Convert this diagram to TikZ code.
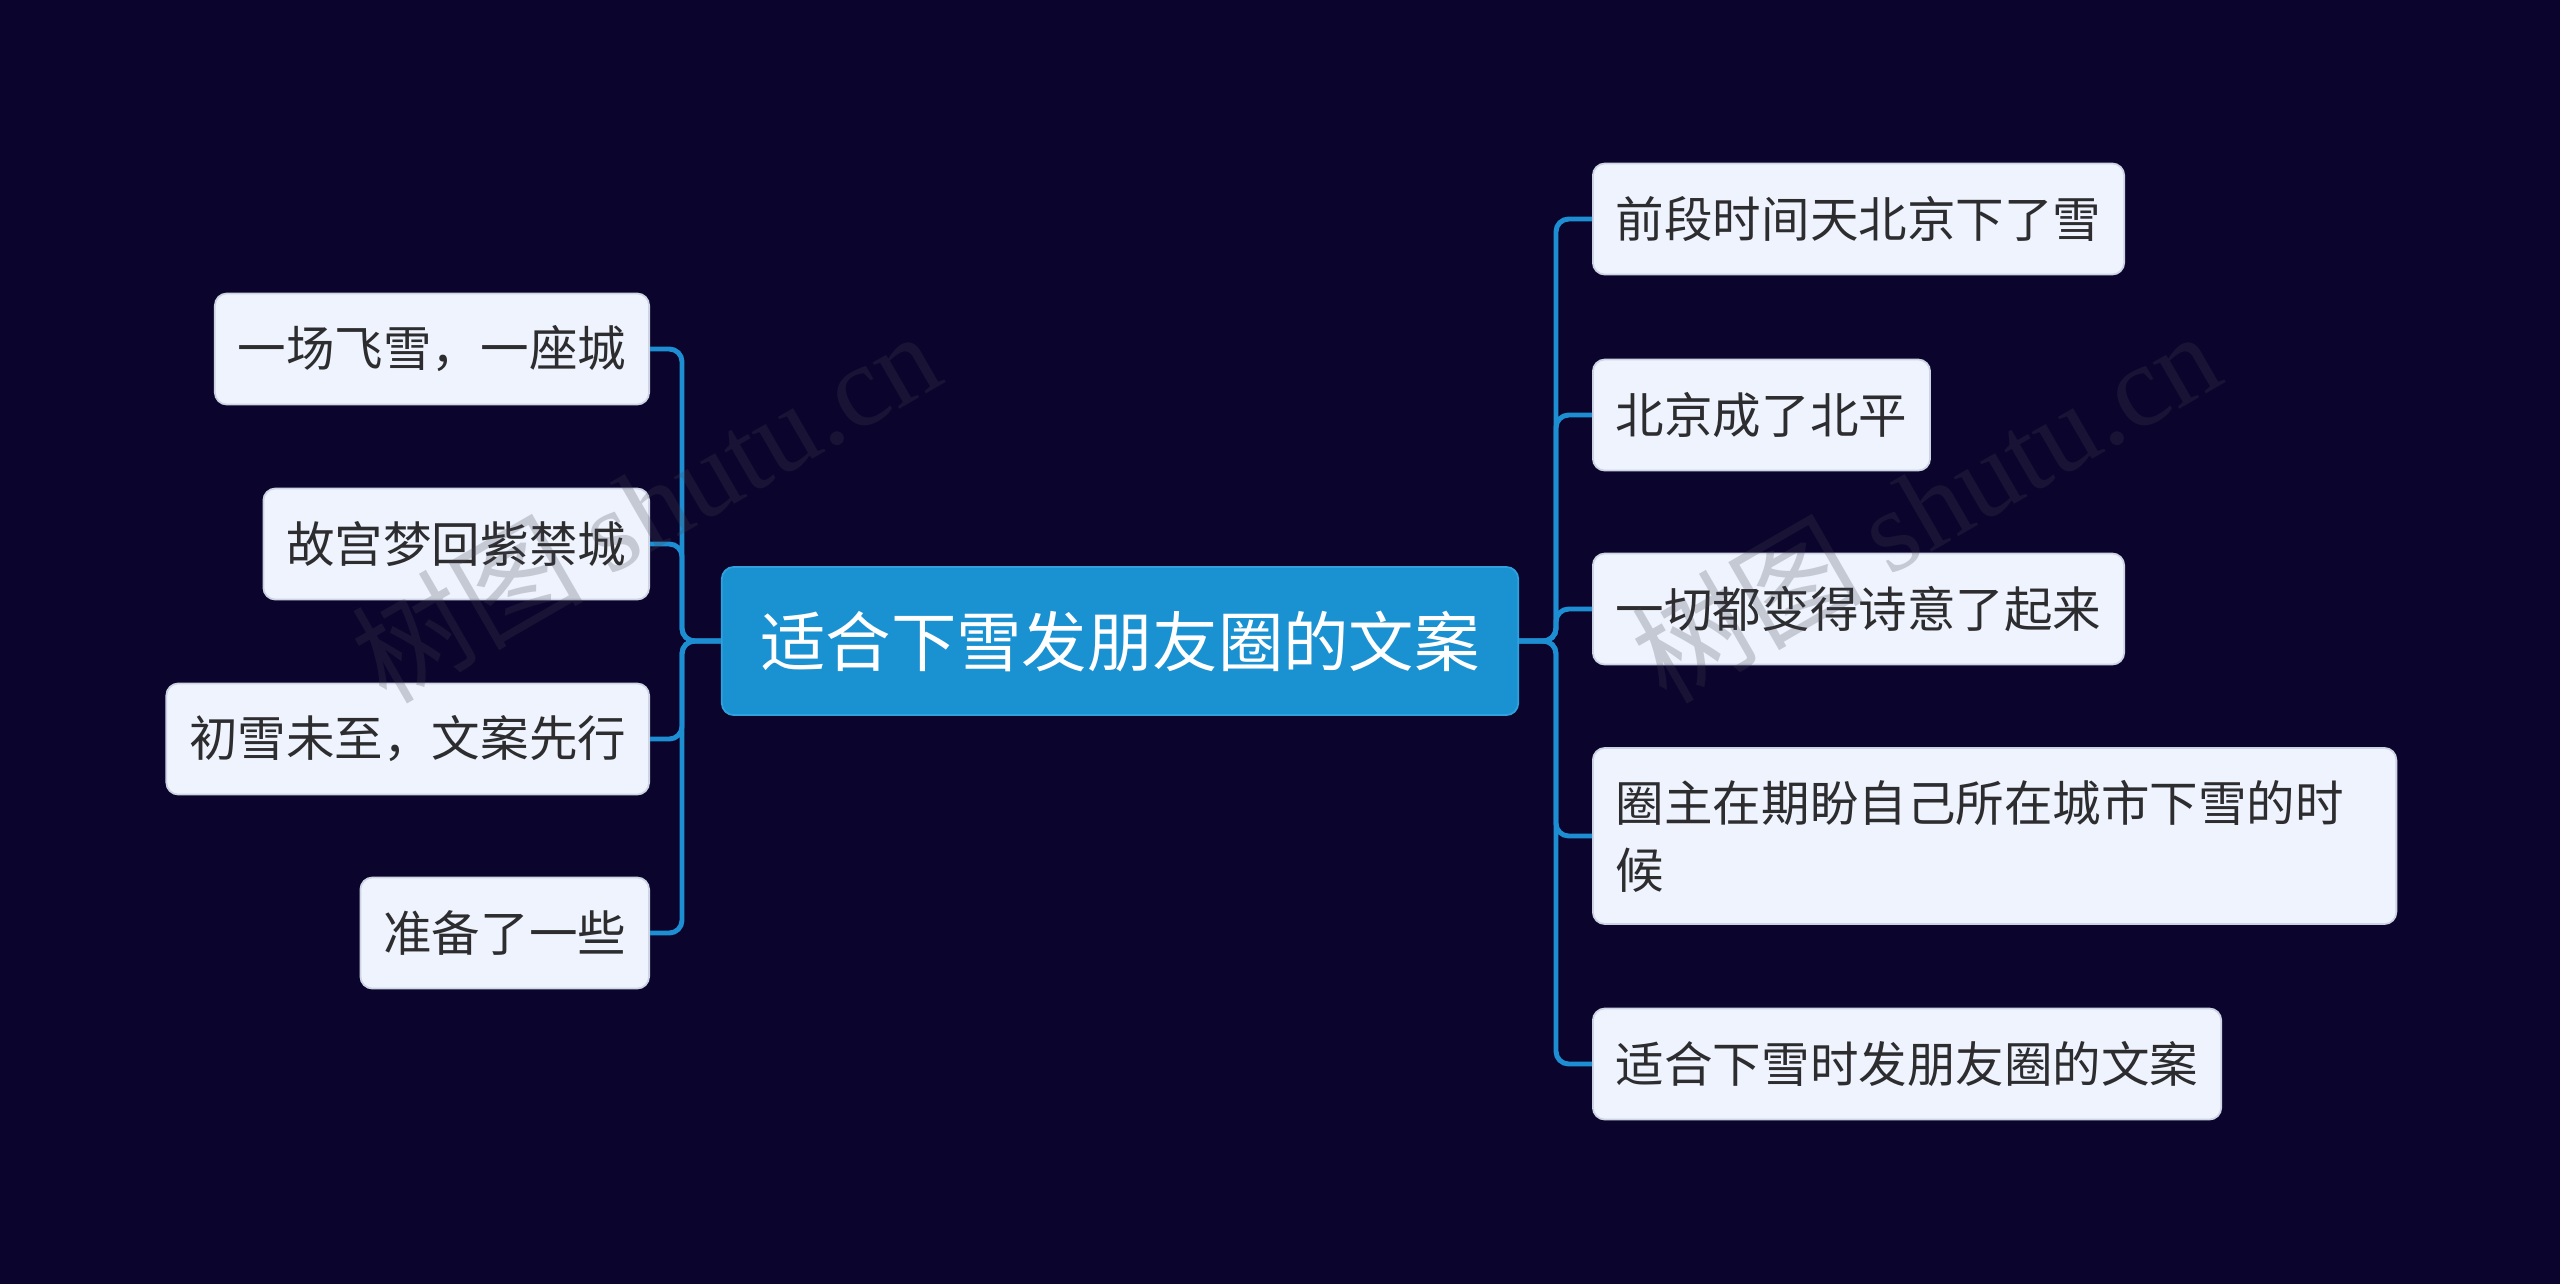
\documentclass[tikz,border=0pt]{standalone}
\usepackage{fontspec}
\setmainfont{Noto Sans CJK SC}
\newfontfamily\wmserif{Liberation Serif}
\definecolor{bgc}{RGB}{11,5,45}
\definecolor{rootbg}{RGB}{26,145,209}
\definecolor{rootbd}{RGB}{50,160,220}
\definecolor{leafbg}{RGB}{238,243,253}
\definecolor{leafbd}{RGB}{205,212,228}
\definecolor{leaftx}{RGB}{45,45,48}
\definecolor{linkc}{RGB}{30,142,210}
\definecolor{wmc}{RGB}{70,70,82}
\begin{document}
\begin{tikzpicture}[x=0.01cm,y=-0.01cm,
  leaf/.style={fill=leafbg, draw=leafbd, line width=0.5pt, rounded corners=3.4pt,
    text=leaftx, font=\fontsize{13.8}{19}\selectfont, inner xsep=0.23cm, inner ysep=0pt,
    minimum height=1.11cm},
  root/.style={fill=rootbg, draw=rootbd, line width=0.5pt, rounded corners=3.4pt, text=white,
    font=\fontsize{18.6}{22}\selectfont, minimum width=7.96cm, minimum height=1.48cm},
  link/.style={draw=linkc, line width=1.4pt, rounded corners=3.6pt},
  wmark/.style={text=wmc, opacity=0.24, rotate=30, font=\fontsize{33}{35}\selectfont}]
\fill[bgc] (0,0) rectangle (2560,1284);
\useasboundingbox (0,0) rectangle (2560,1284);

\coordinate (lj) at (682,641);
\coordinate (rj) at (1556,641);

\node[root] (c) at (1120,641) {适合下雪发朋友圈的文案};

\node[leaf, anchor=east] (l1) at (650,349) {一场飞雪，一座城};
\node[leaf, anchor=east] (l2) at (650,544) {故宫梦回紫禁城};
\node[leaf, anchor=east] (l3) at (650,739) {初雪未至，文案先行};
\node[leaf, anchor=east] (l4) at (650,933) {准备了一些};

\node[leaf, anchor=west] (r1) at (1592,219) {前段时间天北京下了雪};
\node[leaf, anchor=west] (r2) at (1592,415) {北京成了北平};
\node[leaf, anchor=west] (r3) at (1592,609) {一切都变得诗意了起来};
\node[leaf, anchor=west, text width=7.57cm, align=left, minimum height=1.76cm] (r4) at (1592,836) {圈主在期盼自己所在城市下雪的时\\候};
\node[leaf, anchor=west] (r5) at (1592,1064) {适合下雪时发朋友圈的文案};

\foreach \n in {l1,l2,l3,l4}
  \draw[link] (c.west) -- (lj) |- (\n.east);
\foreach \n in {r1,r2,r3,r4,r5}
  \draw[link] (c.east) -- (rj) |- (\n.west);

\node[wmark] (wm1) at (645,505) {树图 {\wmserif shutu.cn}};
\node[wmark] (wm2) at (1925,505) {树图 {\wmserif shutu.cn}};
\end{tikzpicture}
\end{document}
